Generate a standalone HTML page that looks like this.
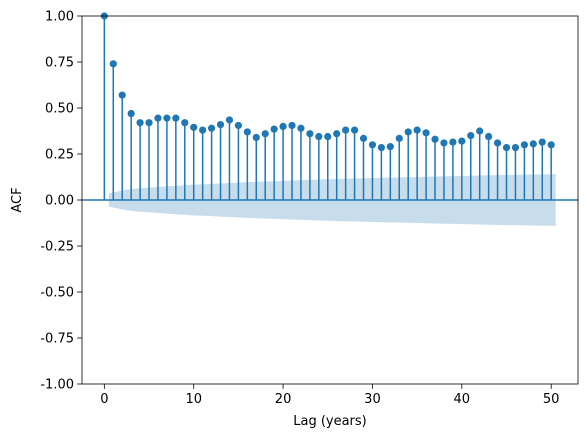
<!DOCTYPE html>
<html><head><meta charset="utf-8"><style>
body{margin:0;background:#fff}
svg text{font-family:"DejaVu Sans","Liberation Sans",sans-serif;font-size:13px;fill:#000}
</style></head><body>
<svg id="chart" width="587" height="438" xmlns="http://www.w3.org/2000/svg"></svg>
<script>
const acfValues=[1.0,0.74,0.57,0.47,0.42,0.42,0.445,0.445,0.445,0.42,0.395,0.38,0.39,0.41,0.435,0.405,0.37,0.34,0.36,0.385,0.40,0.405,0.39,0.36,0.345,0.345,0.36,0.38,0.38,0.335,0.30,0.285,0.29,0.335,0.37,0.38,0.365,0.33,0.31,0.315,0.32,0.35,0.375,0.345,0.31,0.285,0.285,0.30,0.305,0.315,0.30];
const nObs=3000;
const yTicks=[-1.00,-0.75,-0.50,-0.25,0.00,0.25,0.50,0.75,1.00];
const xTicks=[0,10,20,30,40,50];
const svg=document.getElementById('chart');
const NS='http://www.w3.org/2000/svg';
const L=82,R=578,T=16,B=384;
const xMin=-2.5,xMax=53;
const X=v=>L+(v-xMin)/(xMax-xMin)*(R-L);
const Y=v=>T+(1-v)/2*(B-T);
function mk(tag,attrs,parent){const e=document.createElementNS(NS,tag);for(const k in attrs)e.setAttribute(k,attrs[k]);(parent||svg).appendChild(e);return e;}
let se=[],s=0;
for(let k=1;k<acfValues.length;k++){s+=k>1?acfValues[k-1]**2:0;se.push(1.96*Math.sqrt((1+2*s)/nObs));}
let up=[],lo=[];
for(let k=1;k<acfValues.length;k++){let lx=k===1?0.5:(k===acfValues.length-1?k+0.5:k);up.push(X(lx)+','+Y(se[k-1]));lo.push(X(lx)+','+Y(-se[k-1]));}
const band=mk('polygon',{points:up.concat(lo.reverse()).join(' '),fill:'#1f77b4','fill-opacity':0.25,stroke:'none'});


const zl=mk('line',{x1:L,x2:R,y1:Y(0),y2:Y(0),stroke:'#1f77b4','stroke-width':1.5});


acfValues.forEach((v,k)=>{
  const st=mk('line',{x1:X(k),x2:X(k),y1:Y(0),y2:Y(v),stroke:'#1f77b4','stroke-width':1.5});
  
  
  const c=mk('circle',{cx:X(k),cy:Y(v),r:3.6,fill:'#1f77b4'});
  
  
});
const fr=mk('rect',{x:L,y:T,width:R-L,height:B-T,fill:'none',stroke:'#000','stroke-width':0.8});


yTicks.forEach(t=>{
  mk('line',{x1:L-4.9,x2:L,y1:Y(t),y2:Y(t),stroke:'#000','stroke-width':0.8});
  const tx=mk('text',{x:L-8,y:Y(t)+4.5,'text-anchor':'end'});tx.textContent=t.toFixed(2);
  
  
});
xTicks.forEach(t=>{
  mk('line',{x1:X(t),x2:X(t),y1:B,y2:B+4.9,stroke:'#000','stroke-width':0.8});
  const tx=mk('text',{x:X(t),y:B+19,'text-anchor':'middle'});tx.textContent=t;
  
  
});
const xt=mk('text',{x:(L+R)/2,y:425,'text-anchor':'middle'});xt.textContent='Lag (years)';


const yt=mk('text',{x:21,y:(T+B)/2,'text-anchor':'middle',transform:'rotate(-90 21 '+(T+B)/2+')'});yt.textContent='ACF';


</script>
</body></html>
